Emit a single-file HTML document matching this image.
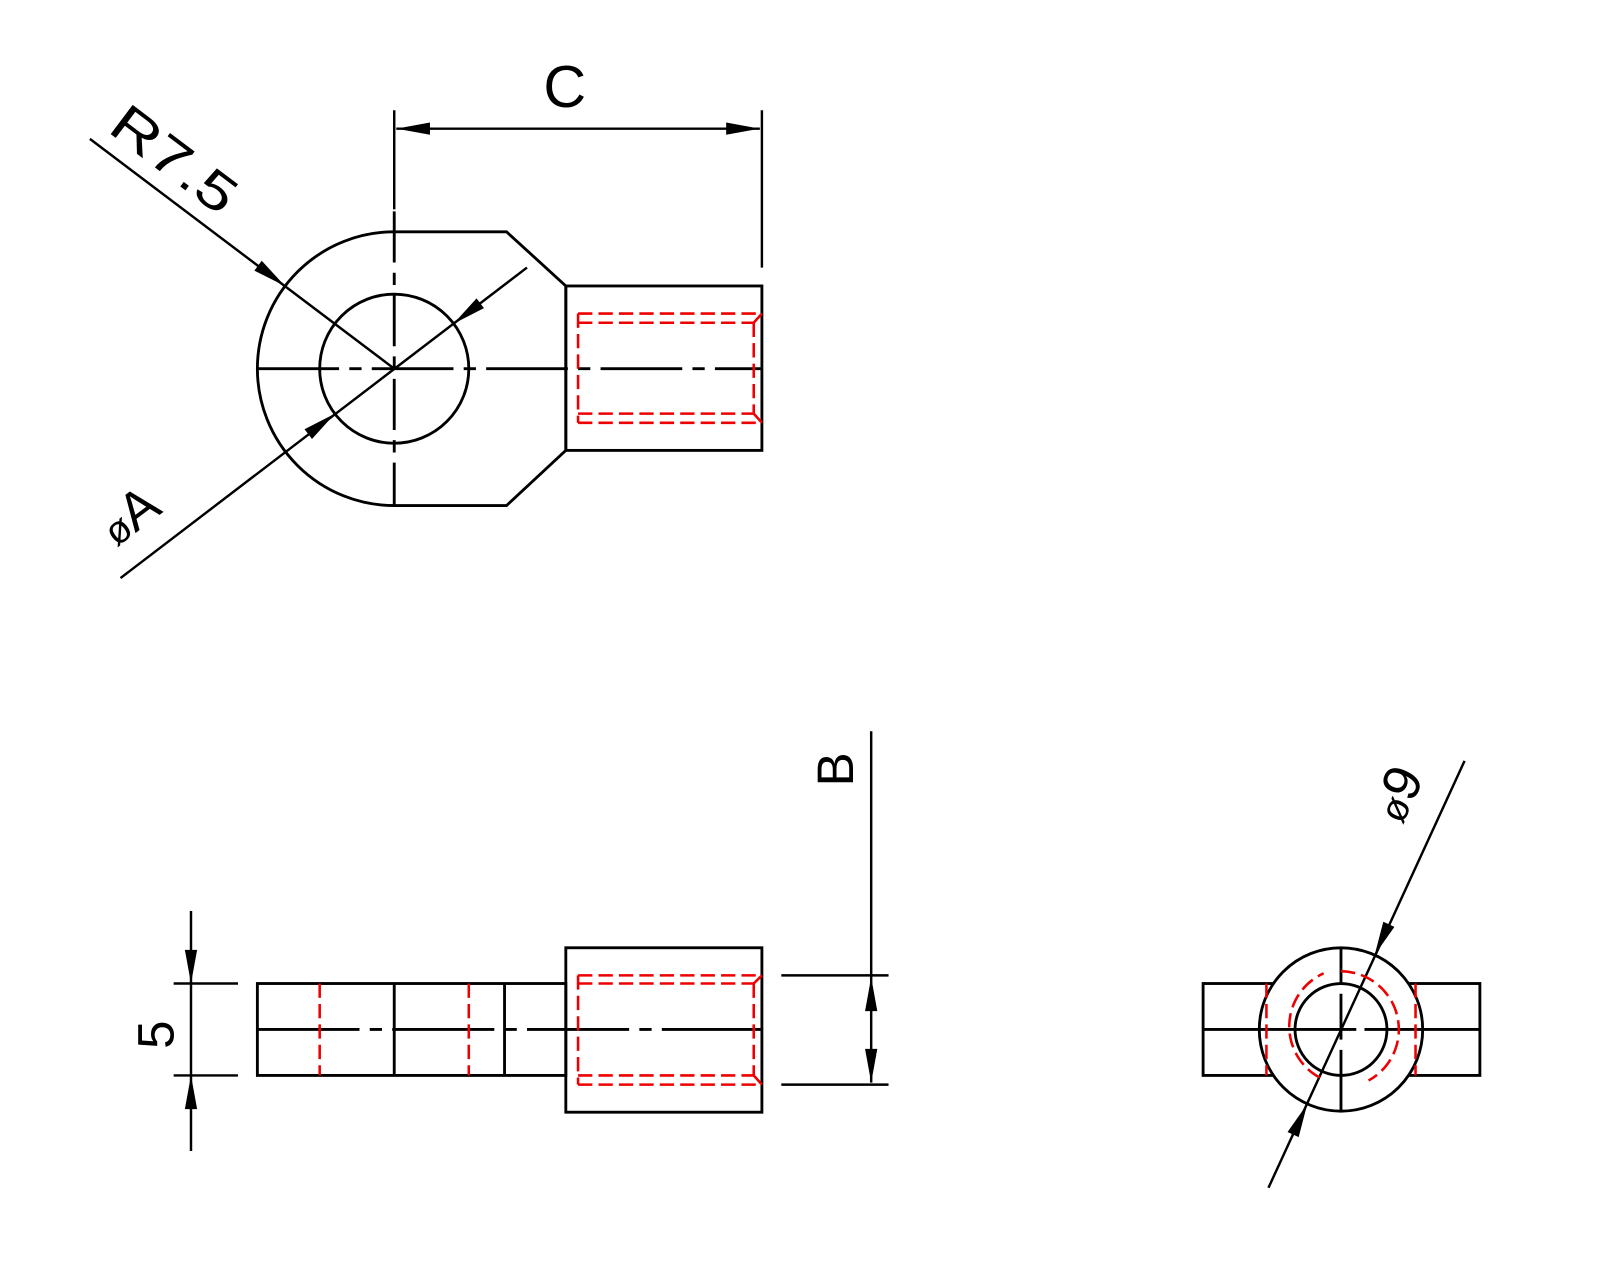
<!DOCTYPE html>
<html><head><meta charset="utf-8"><style>html,body{margin:0;padding:0;background:#fff;}svg{display:block}</style></head>
<body>
<svg id="s" width="1600" height="1280" viewBox="0 0 1566.6 1253.3" xmlns="http://www.w3.org/2000/svg" font-family="Liberation Sans, sans-serif">
<g fill="none" stroke="#000" stroke-width="2.8">
<!-- TOP VIEW -->
<path d="M386,227 L496,227 L554,280 L554,441 L496,495 L386,495 A134,134 0 0 1 386,227 Z"/>
<circle cx="386" cy="361" r="73"/>
<rect x="554" y="280" width="192" height="161"/>
<line x1="252" y1="361" x2="746" y2="361" stroke-dasharray="80 10 12 10"/>
<line x1="386" y1="207" x2="386" y2="495" stroke-dasharray="50 10 12 10"/>
<line x1="386" y1="108" x2="386" y2="205" stroke-width="2.4"/>
<line x1="746" y1="108" x2="746" y2="262" stroke-width="2.4"/>
<line x1="388" y1="126" x2="744" y2="126" stroke-width="2.4"/>
<line x1="88" y1="136" x2="386" y2="361" stroke-width="2.4"/>
<line x1="118" y1="566" x2="516" y2="262" stroke-width="2.4"/>
<!-- SIDE VIEW -->
<rect x="252" y="963" width="302" height="90"/>
<line x1="386" y1="963" x2="386" y2="1053"/>
<line x1="494" y1="963" x2="494" y2="1053"/>
<rect x="554" y="928" width="192" height="161"/>
<line x1="252" y1="1008" x2="746" y2="1008" stroke-dasharray="100 10 12 10"/>
<line x1="170" y1="963" x2="233" y2="963" stroke-width="2.4"/>
<line x1="170" y1="1053" x2="233" y2="1053" stroke-width="2.4"/>
<line x1="187" y1="892" x2="187" y2="1127" stroke-width="2.4"/>
<line x1="765" y1="955" x2="870" y2="955" stroke-width="2.4"/>
<line x1="765" y1="1062" x2="870" y2="1062" stroke-width="2.4"/>
<line x1="853" y1="716" x2="853" y2="1060" stroke-width="2.4"/>
<!-- RIGHT VIEW -->
<rect x="1178" y="963" width="271" height="90"/>
<circle cx="1313" cy="1008" r="80" fill="#fff"/>
<circle cx="1313" cy="1008" r="45"/>
<line x1="1178" y1="1008" x2="1449" y2="1008" stroke-dasharray="150 8 200 8"/>
<line x1="1313" y1="928" x2="1313" y2="1088" stroke-dasharray="35 10 45 10 60"/>
<line x1="1242" y1="1163" x2="1434" y2="745" stroke-width="2.4"/>
</g>
<g fill="none" stroke="#e00" stroke-width="2.5" stroke-dasharray="14 6">
<path d="M566,307 H746 M566,316 H738 M566,405 H738 M566,414 H746 M566,307 V414 M738,316 V405"/>
<path d="M566,955 H746 M566,963 H738 M566,1053 H738 M566,1062 H746 M566,955 V1062 M738,963 V1053"/>
<line x1="313" y1="963" x2="313" y2="1053"/>
<line x1="459" y1="963" x2="459" y2="1053"/>
<line x1="1240" y1="963" x2="1240" y2="1053"/>
<line x1="1386" y1="963" x2="1386" y2="1053"/>
<path d="M1292,1055 A57,57 0 0 1 1296,953 M1313,951 A57,57 0 0 1 1340,1058"/>
</g>
<g fill="none" stroke="#e00" stroke-width="2.5">
<path d="M738,316 L746,307 M738,405 L746,414 M738,963 L746,955 M738,1053 L746,1062"/>
</g>
<g id="arrows" fill="#000"></g>
<g fill="#000" font-size="52">
<text x="553" y="105" text-anchor="middle" font-size="58">C</text>
<text transform="translate(104,128) rotate(37)" textLength="140" lengthAdjust="spacingAndGlyphs">R7.5</text>
<text transform="translate(114,536) rotate(-37)"><tspan font-size="38">ø</tspan>A</text>
<text transform="translate(1373,808) rotate(-65)"><tspan font-size="38">ø</tspan>9</text>
<text transform="translate(835,770) rotate(-90)" font-size="50">B</text>
<text transform="translate(170,1027) rotate(-90)" font-size="50">5</text>
</g>
</svg>
<script>
(function(){
var g=document.getElementById('arrows');
function a(tx,ty,fx,fy){var dx=fx-tx,dy=fy-ty,l=Math.hypot(dx,dy);dx/=l;dy/=l;var L=33,W=6;
var bx=tx+dx*L,by=ty+dy*L;var p=document.createElementNS('http://www.w3.org/2000/svg','polygon');
p.setAttribute('points',tx+','+ty+' '+(bx-dy*W)+','+(by+dx*W)+' '+(bx+dy*W)+','+(by-dx*W));g.appendChild(p);}
a(388,126,500,126);a(744,126,600,126);
a(279,280,88,136);
a(328,405,118,566);a(444,317,516,262);
a(187,963,187,900);a(187,1053,187,1120);
a(853,957,853,1050);a(853,1060,853,960);
a(1346,935,1434,745);a(1280,1081,1242,1163);
})();
</script>
</body></html>
